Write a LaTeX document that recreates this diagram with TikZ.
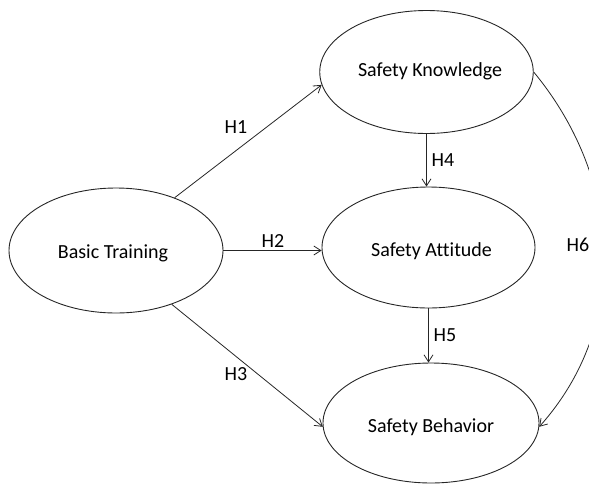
\documentclass[tikz,border=0pt]{standalone}
\usepackage{fontspec}
\setmainfont[Ligatures=NoCommon]{Carlito}
\usetikzlibrary{shapes.geometric,arrows.meta}
\begin{document}
\begin{tikzpicture}[x=1pt,y=-1pt,
  construct/.style={draw=black!85,line width=0.9pt,ellipse,inner sep=0pt,
    minimum width=213pt,minimum height=123pt,text depth=0pt,
    font=\fontsize{20}{22}\selectfont},
  path/.style={draw=black!85,line width=0.8pt,-{Straight Barb[length=7pt,width=9pt]}},
  hyp/.style={font=\fontsize{20}{22}\selectfont,inner sep=0pt}]
\useasboundingbox (0,0) rectangle (589,485);
% latent constructs
\node[construct,text height=9pt] (sk) at (426.5,72) {\hspace*{7pt}Safety Knowledge};
\node[construct,text height=15pt,minimum width=214pt,minimum height=125pt] (bt) at (116,250.5) {Basic Training\hspace*{6pt}};
\node[construct,text height=18pt,minimum height=121pt] (sa) at (428.5,247.5) {\hspace*{6pt}Safety Attitude};
\node[construct,text height=18pt,minimum width=216pt,minimum height=120pt] (sb) at (431,423) {Safety Behavior};
% hypothesised paths
\draw[path] (bt.42) -- (sk.187);
\draw[path] (bt.east) -- (bt.east -| sa.west);
\draw[path] (bt.-44) -- (sb.182);
\draw[path] (sk.south) -- (sk.south |- sa.north);
\draw[path] (sa.south) -- (sa.south |- sb.north);
\draw[path] (sk.east) .. controls (622,179) and (631,324) .. (sb.-2);
% path labels
\node[hyp] (h1) at (236,127) {H1};
\node[hyp] (h2) at (273,241) {H2};
\node[hyp] (h3) at (236,374) {H3};
\node[hyp] (h4) at (443,160) {H4};
\node[hyp] (h5) at (445,335) {H5};
\node[hyp] (h6) at (578,245) {H6};
\end{tikzpicture}
\end{document}
